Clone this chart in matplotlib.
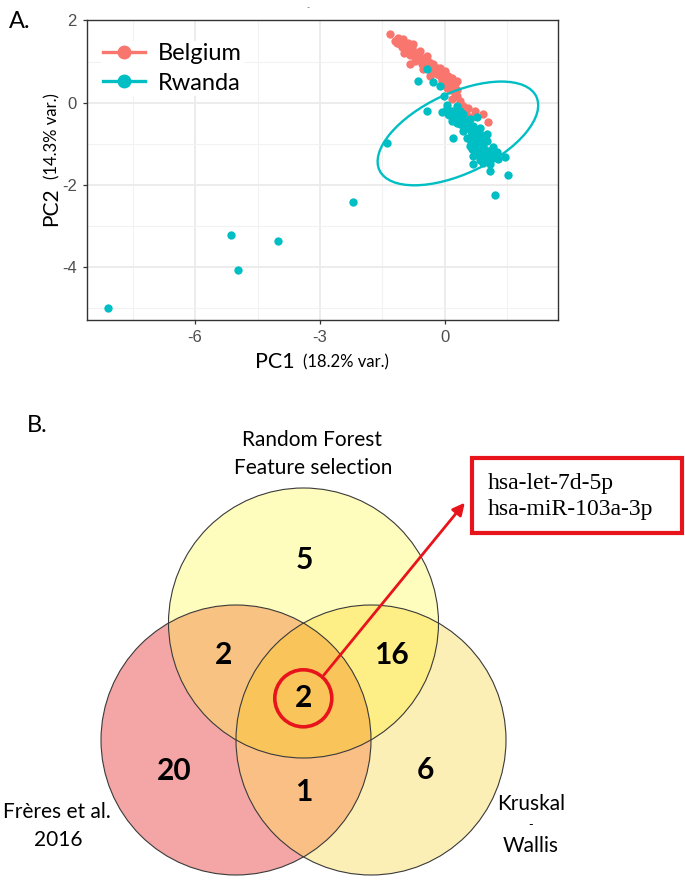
import numpy as np
import matplotlib
matplotlib.use('Agg')
import matplotlib.pyplot as plt
from matplotlib.patches import Circle, Ellipse, Rectangle, PathPatch
from matplotlib.path import Path
from matplotlib.lines import Line2D

plt.rcParams['axes.unicode_minus'] = False

# ---- panel A data (PCA scores) ----
belgium_pc1 = [-1.32, -1.20, -1.12, -1.00, -1.08, -0.88, -0.96, -0.80, -0.76, -0.84, -0.68, -0.60,
               -0.60, -0.72, -0.84, -0.48, -0.44, -0.56, -0.36, -0.28, -0.52, -0.24, -0.12, -0.16,
               0.00, -0.36, -0.04, 0.04, 0.16, -0.08, 0.12, 0.28, 0.20, 0.04, 0.24, 0.16, 0.36, 0.44,
               0.56, 0.72, 0.92, 1.04, 0.30, 0.50, 0.65, -1.04, -0.92,
               -1.15, -1.05, -0.95, -0.90, -0.78, -0.70, -0.65, -0.55, -0.50, -0.42, -0.32, -0.30,
               -0.20, -0.10, -0.05, 0.08, 0.10, 0.18, 0.25, 0.22, 0.12, 0.30, 0.05, -0.20, -0.38,
               -0.62, -0.98]
belgium_pc2 = [1.68, 1.50, 1.58, 1.54, 1.42, 1.46, 1.30, 1.34, 1.42, 1.17, 1.21, 1.25,
               1.09, 1.01, 0.93, 1.01, 1.13, 0.93, 0.89, 0.93, 0.81, 0.77, 0.85, 0.69,
               0.77, 0.65, 0.65, 0.57, 0.61, 0.53, 0.49, 0.53, 0.41, 0.36, 0.24, 0.08, 0.04, -0.08,
               -0.14, -0.20, -0.28, -0.48, 0.15, -0.25, -0.35, 1.36, 1.24,
               1.45, 1.48, 1.40, 1.25, 1.28, 1.15, 1.05, 1.05, 0.95, 0.85, 0.80, 0.72,
               0.70, 0.62, 0.72, 0.65, 0.55, 0.50, 0.45, 0.35, 0.30, 0.30, 0.45, 0.85, 1.00,
               1.15, 1.20]

rwanda_pc1 = [-8.08, -5.14, -4.97, -4.02, -2.21, -1.40, 1.20, 1.52, -0.44, -0.64, -0.28, -0.12,
              -0.02, -0.44, 0.20, -0.08, 0.04, 0.16, 0.28, 0.32, 0.44, 0.48, 0.60, 0.56, 0.68,
              0.76, 0.84, 0.92, 0.80, 1.00, 0.64, 0.68, 0.84, 1.00, 1.16, 1.24, 1.44, 1.08, 1.08,
              0.68, 0.44, 0.36, 0.24, 0.08, 0.52, 0.72, 0.60, 0.92, 0.84, 1.00, 0.76, 1.04, 1.28,
              0.92, 0.80,
              0.10, 0.22, 0.35, 0.40, 0.52, 0.45, 0.62, 0.70, 0.58, 0.75, 0.88, 0.95, 1.10, 1.15,
              0.70, 0.62, 0.30, 0.18, 0.05, 0.85, 0.98]
rwanda_pc2 = [-5.00, -3.21, -4.07, -3.37, -2.41, -0.99, -2.26, -1.76, 0.81, 0.53, 0.49, 0.41,
              0.16, -0.20, -0.85, -0.24, -0.14, -0.20, -0.08, -0.32, -0.28, -0.44, -0.40, -0.61, -0.57,
              -0.69, -0.77, -0.83, -0.93, -0.93, -1.13, -1.29, -1.29, -1.29, -1.09, -1.21, -1.33, -1.50, -1.66,
              -1.50, -0.69, -0.53, -0.40, -0.28, -0.85, -0.93, -1.05, -1.05, -0.61, -0.77, -0.36, -1.17, -1.37,
              -1.46, -1.17,
              -0.30, -0.28, -0.20, -0.42, -0.55, -0.60, -0.70, -0.80, -0.85, -1.00, -0.95, -1.15, -1.25, -1.35,
              -1.10, -0.95, -0.50, -0.45, -0.05, -1.40, -1.40]

# stat_ellipse for Rwanda: centre, full width/height, angle (deg)
ell_center = (0.31, -0.75)
ell_width, ell_height, ell_angle = 4.17, 1.96, 25.6

# ---- panel B data ----
set_labels = [['Frères et al.', '2016'], ['Random Forest', 'Feature selection'], ['Kruskal', '-', 'Wallis']]
region_counts = {'F': 20, 'R': 5, 'K': 6, 'FR': 2, 'RK': 16, 'FK': 1, 'FRK': 2}
common_mirs = ['hsa-let-7d-5p', 'hsa-miR-103a-3p']

red = '#E8141C'
W, H = 685, 884
fig = plt.figure(figsize=(W / 100, H / 100), dpi=100)
sans = ['Lato', 'DejaVu Sans']

# ---------------- panel A ----------------
ax = fig.add_axes([86.7 / W, 1 - 320 / H, (558.3 - 86.7) / W, 300 / H])
ax.set_xlim(-8.6, 2.72)
ax.set_ylim(-5.29, 2.01)
ax.set_xticks([-6, -3, 0])
ax.set_yticks([2, 0, -2, -4])
ax.set_xticks([-7.5, -4.5, -1.5, 1.5], minor=True)
ax.set_yticks([1, -1, -3, -5], minor=True)
ax.grid(which='major', color='#EBEBEB', lw=1.3, zorder=0)
ax.grid(which='minor', color='#F2F2F2', lw=0.8, zorder=0)
ax.set_axisbelow(True)
for s in ax.spines.values():
    s.set_color('#333333')
    s.set_linewidth(1.0)
ax.tick_params(which='major', length=3, width=0.9, color='#333333', labelcolor='#4D4D4D',
               labelsize=12, pad=4)
ax.tick_params(which='minor', length=0)
for lab in ax.get_xticklabels() + ax.get_yticklabels():
    lab.set_family(['Liberation Sans', 'DejaVu Sans'])

ax.scatter(belgium_pc1, belgium_pc2, s=36, color='#F8766D', lw=0, zorder=3)
ax.scatter(rwanda_pc1, rwanda_pc2, s=36, color='#00BFC4', lw=0, zorder=4)
ax.add_patch(Ellipse(ell_center, ell_width, ell_height, angle=ell_angle, fill=False,
                     edgecolor='#00BFC4', lw=1.7, zorder=5))

handles = [Line2D([], [], color='#F8766D', marker='o', markersize=9, lw=2.4),
           Line2D([], [], color='#00BFC4', marker='o', markersize=9, lw=2.4)]
leg = ax.legend(handles, ['Belgium', 'Rwanda'], loc='upper left', bbox_to_anchor=(0.03, 0.93),
                frameon=True, facecolor='white', edgecolor='none', framealpha=1,
                borderpad=0.1, borderaxespad=0, handlelength=1.75, handletextpad=0.55,
                labelspacing=0.35, prop={'family': sans, 'size': 17})
leg.set_zorder(6)

def ftext(x, y, s, **kw):
    return fig.text(x / W, 1 - y / H, s, **kw)

ftext(254.6, 367.5, 'PC1', family=sans, size=15.5, ha='left', va='baseline')
ftext(303, 367.5, '(18.2% var.)', family=sans, size=12, ha='left', va='baseline')
ftext(57.6, 226, 'PC2', family=sans, size=15, ha='left', va='baseline', rotation=90,
      rotation_mode='anchor')
ftext(57.6, 179, '(14.3% var.)', family=sans, size=12, ha='left', va='baseline', rotation=90,
      rotation_mode='anchor')
ftext(9, 28, 'A.', family=sans, size=17, ha='left', va='baseline')
ftext(308, 8, '-', family=sans, size=6, ha='center', va='center', color='#555555')

# ---------------- panel B (pixel coordinates) ----------------
ov = fig.add_axes([0, 0, 1, 1], zorder=-1)
ov.set_xlim(0, W)
ov.set_ylim(H, 0)
ov.axis('off')

r = 135
cF, cR, cK = (236, 740), (303.5, 623), (371, 740)
col = {'F': '#F4A6A6', 'R': '#FFFDBE', 'K': '#FCEFB5', 'FR': '#F7C282',
       'RK': '#FDEE85', 'FK': '#F9BF85', 'FRK': '#F9C55B'}

def circ(c, **kw):
    return Circle(c, r, transform=ov.transData, **kw)

for c, k in [(cF, 'F'), (cR, 'R'), (cK, 'K')]:
    ov.add_patch(circ(c, facecolor=col[k], edgecolor='none'))

for a, b, k in [(cF, cR, 'FR'), (cR, cK, 'RK'), (cF, cK, 'FK')]:
    p = ov.add_patch(circ(a, facecolor=col[k], edgecolor='none'))
    p.set_clip_path(circ(b))

# lens F∩K used to clip the triple region
t1 = np.radians(np.linspace(-60, 60, 60))
t2 = np.radians(np.linspace(120, 240, 60))
lens = np.vstack([np.column_stack([cF[0] + r * np.cos(t1), cF[1] + r * np.sin(t1)]),
                  np.column_stack([cK[0] + r * np.cos(t2), cK[1] + r * np.sin(t2)])])
lens_patch = PathPatch(Path(np.vstack([lens, lens[:1]]), closed=True), transform=ov.transData)
p = ov.add_patch(circ(cR, facecolor=col['FRK'], edgecolor='none'))
p.set_clip_path(lens_patch)

for c in (cF, cR, cK):
    ov.add_patch(circ(c, fill=False, edgecolor='#3A3A3A', lw=0.8))

num_pos = {'R': (304, 560), 'FR': (224, 655), 'RK': (391, 655), 'FRK': (304, 698),
           'F': (174, 771), 'FK': (304, 792), 'K': (425, 770)}
for k, (x, y) in num_pos.items():
    ov.text(x, y, str(region_counts[k]), family=sans, weight='bold', size=21.5,
            ha='center', va='center')

lab_pos = [[(57, 812), (58, 840)], [(312, 440), (313, 468)], [(531, 804), (531, 825), (531, 846)]]
lab_size = [[15, 15], [15, 15], [15, 9, 15]]
for pos, lines, sizes in zip(lab_pos, set_labels, lab_size):
    for (x, y), s, fs in zip(pos, lines, sizes):
        ov.text(x, y, s, family=sans, size=fs, ha='center', va='center')

ov.text(37, 425, 'B.', family=sans, size=17, ha='center', va='center')

ov.add_patch(Circle((303.3, 698.3), 28.5, fill=False, edgecolor=red, lw=2.6))
ov.annotate('', xy=(464.8, 502.7), xytext=(323.9, 675),
            arrowprops=dict(arrowstyle='-|>', color=red, lw=2, mutation_scale=18,
                            shrinkA=0, shrinkB=0))
ov.add_patch(Rectangle((471.8, 457.7), 210, 75, fill=False, edgecolor=red, lw=3))
for i, s in enumerate(common_mirs):
    ov.text(488, 483 + 27 * i, s, family=['Liberation Serif', 'DejaVu Serif'],
            size=17, ha='left', va='center')

fig.savefig('out.png', dpi=100)
